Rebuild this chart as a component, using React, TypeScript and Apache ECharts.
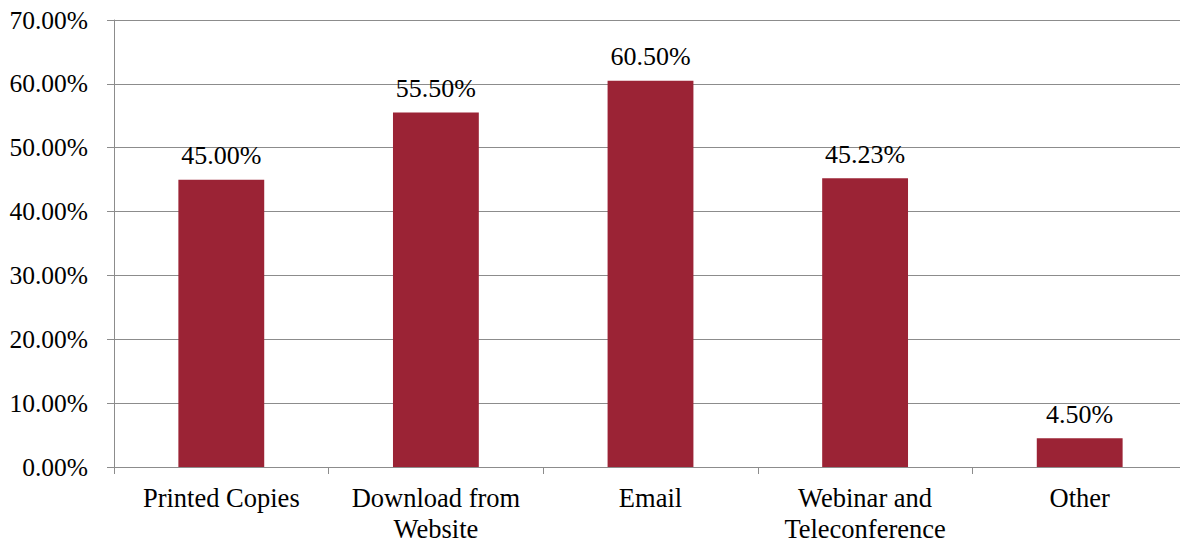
import React, { useEffect, useRef } from "react";
import * as echarts from "echarts";

const categories = ["Printed Copies", "Download from\nWebsite", "Email", "Webinar and\nTeleconference", "Other"];
const values = [45.0, 55.5, 60.5, 45.23, 4.5];
const yTicks = { min: 0, max: 70, interval: 10 };

const FONT = "Liberation Serif, Times New Roman, serif";

export default function App() {
  const ref = useRef<HTMLDivElement>(null);
  useEffect(() => {
    if (!ref.current) return;
    const chart = echarts.init(ref.current, null, { renderer: "svg" });
    chart.setOption({
      animation: false,
      textStyle: { fontFamily: FONT },
      grid: { left: 114, top: 20, bottom: 76, right: 0, containLabel: false },
      xAxis: {
        type: "category",
        data: categories,
        axisLine: { lineStyle: { color: "#8c8c8c", width: 1 } },
        axisTick: { show: true, length: 7, alignWithLabel: false, lineStyle: { color: "#8c8c8c" } },
        axisLabel: { color: "#000", fontSize: 26.5, fontFamily: FONT, margin: 15, lineHeight: 31, interval: 0 },
      },
      yAxis: {
        type: "value",
        min: yTicks.min,
        max: yTicks.max,
        interval: yTicks.interval,
        axisLine: { show: true, lineStyle: { color: "#8c8c8c", width: 1 } },
        axisTick: { show: true, length: 7, lineStyle: { color: "#8c8c8c" } },
        splitLine: { show: true, lineStyle: { color: "#8c8c8c", width: 1 } },
        axisLabel: {
          color: "#000",
          fontSize: 25.5,
          fontFamily: FONT,
          margin: 26,
          formatter: (v: number) => v.toFixed(2) + "%",
        },
      },
      series: [
        {
          type: "bar",
          data: values,
          barWidth: "40%",
          itemStyle: { color: "#9b2335" },
          label: {
            show: true,
            position: "top",
            distance: 11,
            color: "#000",
            fontSize: 26,
            fontFamily: FONT,
            formatter: (p: any) => Number(p.value).toFixed(2) + "%",
          },
        },
      ],
    });
    return () => chart.dispose();
  }, []);
  return (
    <div style={{ position: "fixed", left: 0, top: 0, width: 1180, height: 544, overflow: "hidden", background: "#fff" }}>
      <div ref={ref} style={{ width: 1187, height: 544 }} />
    </div>
  );
}
